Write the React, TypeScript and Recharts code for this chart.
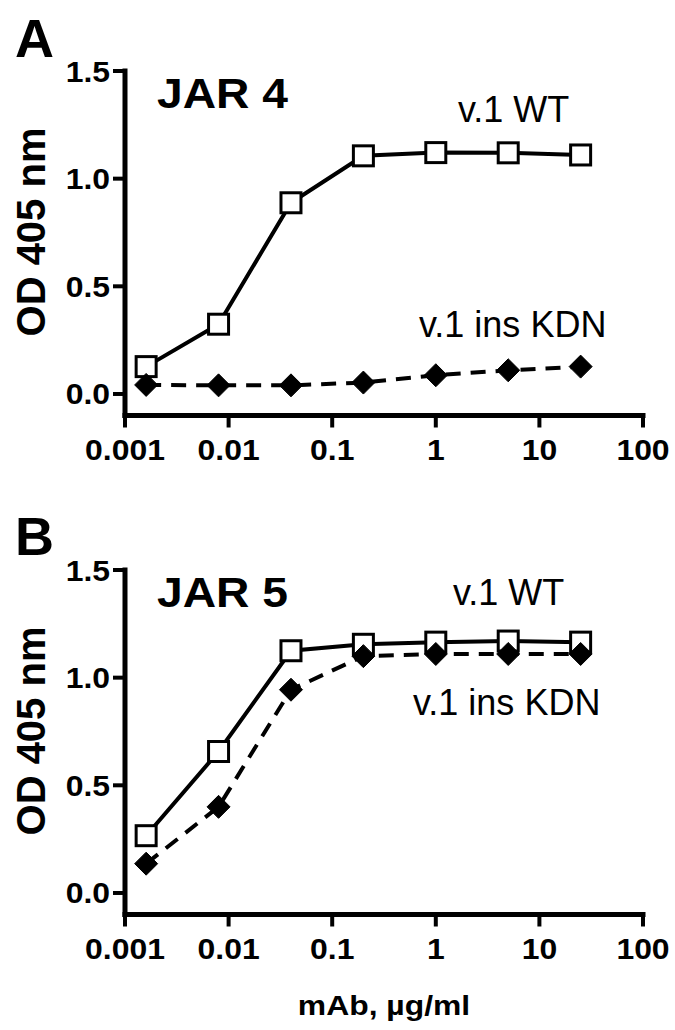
import React from 'react';
import { LineChart, Line, XAxis, YAxis } from 'recharts';

const concentrations = [0.0016, 0.008, 0.04, 0.2, 1, 5, 25];
const jar4WT = [0.127, 0.324, 0.888, 1.106, 1.121, 1.12, 1.11];
const jar4KDN = [0.042, 0.04, 0.04, 0.053, 0.087, 0.11, 0.127];
const jar5WT = [0.266, 0.657, 1.125, 1.155, 1.165, 1.17, 1.165];
const jar5KDN = [0.136, 0.4, 0.944, 1.1, 1.11, 1.11, 1.11];
const xTicks = [0.001, 0.01, 0.1, 1, 10, 100];
const yTicks = [0, 0.5, 1, 1.5];

const FONT = '"Liberation Sans", Arial, sans-serif';

const buildData = (wt: number[], kdn: number[]) =>
  concentrations.map((c, i) => ({ x: c, wt: wt[i], kdn: kdn[i] }));

const SText = ({ x, y, size, sx = 1, anchor = 'start', weight = 'normal', rotate = 0, children }: any) => (
  <g transform={`translate(${x},${y}) rotate(${rotate}) scale(${sx},1)`}>
    <text x={0} y={0} fontSize={size} fontFamily={FONT} fontWeight={weight} textAnchor={anchor} fill="#000">
      {children}
    </text>
  </g>
);

const XTick = (props: any) => {
  const { x, y, payload } = props;
  return (
    <SText x={x} y={y + 32.5} size={29} sx={1.1} anchor="middle" weight="bold">
      {String(payload.value)}
    </SText>
  );
};

const YTick = (props: any) => {
  const { x, y, payload } = props;
  return (
    <SText x={x} y={y + 10.5} size={29} sx={1.1} anchor="end" weight="bold">
      {Number(payload.value).toFixed(1)}
    </SText>
  );
};

const SquareDot = (props: any) => {
  const { cx, cy, index } = props;
  if (cx == null || cy == null) return <g key={`s${index}`} />;
  return (
    <rect key={`s${index}`} x={cx - 10} y={cy - 10} width={20} height={20} fill="#fff" stroke="#000" strokeWidth={3} />
  );
};

const DiamondDot = (props: any) => {
  const { cx, cy, index } = props;
  if (cx == null || cy == null) return <g key={`d${index}`} />;
  const r = 11.5;
  return (
    <polygon
      key={`d${index}`}
      points={`${cx},${cy - r} ${cx + r},${cy} ${cx},${cy + r} ${cx - r},${cy}`}
      fill="#000"
      stroke="#000"
      strokeWidth={1}
    />
  );
};

const Panel = ({ wt, kdn }: { wt: number[]; kdn: number[] }) => {
  const data = buildData(wt, kdn);
  return (
    <LineChart width={675} height={500} data={data} margin={{ top: 71, right: 32, bottom: 24.5, left: 0 }}>
      <XAxis
        dataKey="x"
        type="number"
        scale="log"
        domain={[0.001, 100]}
        ticks={xTicks}
        allowDataOverflow
        height={60}
        tickSize={12}
        tickMargin={0}
        axisLine={{ stroke: '#000', strokeWidth: 5, strokeLinecap: 'square' }}
        tickLine={{ stroke: '#000', strokeWidth: 4 }}
        tick={<XTick />}
        interval={0}
      />
      <YAxis
        type="number"
        domain={[-0.1, 1.5]}
        ticks={yTicks}
        allowDataOverflow
        width={125}
        tickSize={12}
        tickMargin={3}
        axisLine={{ stroke: '#000', strokeWidth: 5, strokeLinecap: 'square' }}
        tickLine={{ stroke: '#000', strokeWidth: 4 }}
        tick={<YTick />}
        interval={0}
      />
      <Line
        dataKey="wt"
        type="linear"
        stroke="#000"
        strokeWidth={4}
        dot={(p: any) => <SquareDot {...p} />}
        activeDot={false}
        isAnimationActive={false}
      />
      <Line
        dataKey="kdn"
        type="linear"
        stroke="#000"
        strokeWidth={4}
        strokeDasharray="15 10"
        dot={(p: any) => <DiamondDot {...p} />}
        activeDot={false}
        isAnimationActive={false}
      />
    </LineChart>
  );
};

export default function App() {
  return (
    <div style={{ position: 'absolute', left: 0, top: 0, width: 675, height: 1030, background: '#fff', overflow: 'hidden' }}>
      <div style={{ position: 'absolute', left: 0, top: 0 }}>
        <Panel wt={jar4WT} kdn={jar4KDN} />
      </div>
      <div style={{ position: 'absolute', left: 0, top: 499 }}>
        <Panel wt={jar5WT} kdn={jar5KDN} />
      </div>
      <svg
        width={675}
        height={1030}
        style={{ position: 'absolute', left: 0, top: 0, pointerEvents: 'none' }}
      >
        <SText x={15} y={57} size={54} weight="bold">A</SText>
        <SText x={15} y={555} size={54} weight="bold">B</SText>
        <SText x={157} y={108} size={42} sx={1.1} weight="bold">JAR 4</SText>
        <SText x={157} y={607} size={42} sx={1.1} weight="bold">JAR 5</SText>
        <SText x={458} y={122} size={36}>v.1 WT</SText>
        <SText x={419} y={337} size={36}>v.1 ins KDN</SText>
        <SText x={453} y={605} size={36}>v.1 WT</SText>
        <SText x={413} y={715} size={36}>v.1 ins KDN</SText>
        <SText x={45} y={232} size={40} weight="bold" anchor="middle" rotate={-90}>OD 405 nm</SText>
        <SText x={45} y={731} size={40} weight="bold" anchor="middle" rotate={-90}>OD 405 nm</SText>
        <SText x={384} y={1015} size={27} sx={1.18} weight="bold" anchor="middle">mAb, µg/ml</SText>
      </svg>
    </div>
  );
}
